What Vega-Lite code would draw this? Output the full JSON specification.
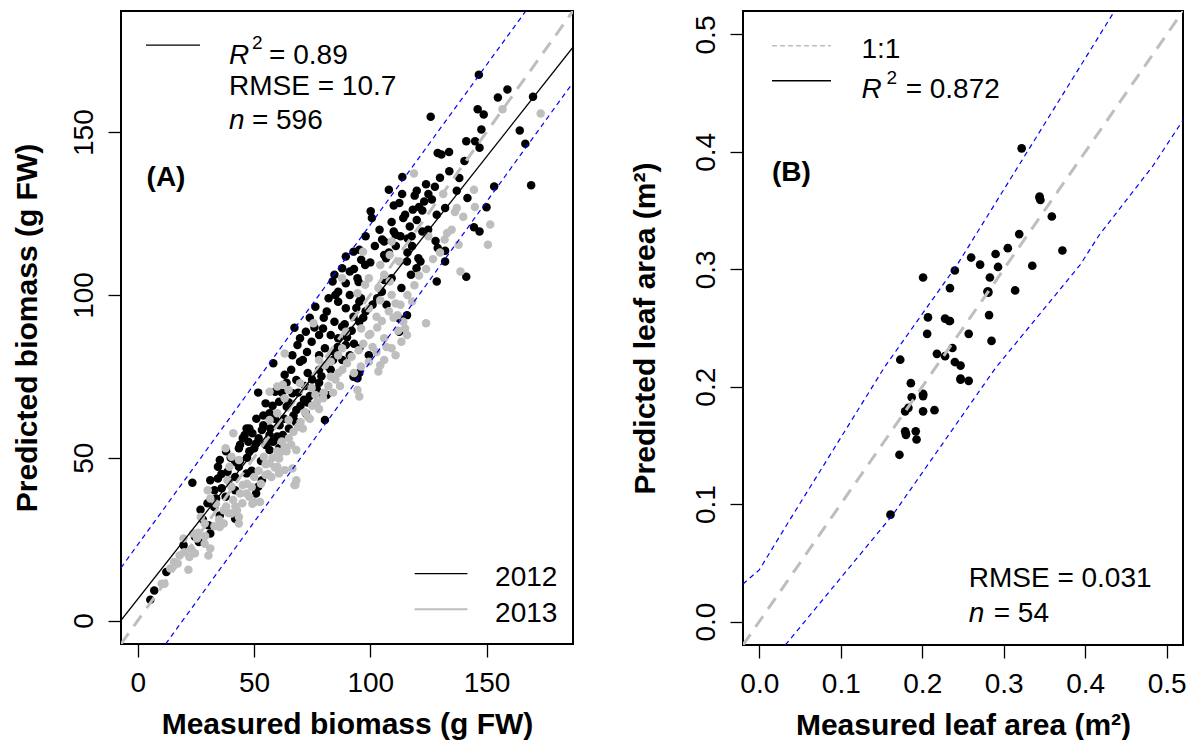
{
 "$schema": "https://vega.github.io/schema/vega-lite/v6.json",
 "background": "white",
 "padding": {"left": 11, "top": 10, "right": 5, "bottom": 2},
 "bounds": "flush",
 "spacing": 170,
 "config": {
  "view": {"stroke": "black", "strokeWidth": 2},
  "axis": {"domain": false, "grid": false, "tickColor": "black", "tickSize": 13, "tickWidth": 1.3, "labelFont": "Liberation Sans", "labelFontSize": 28, "labelColor": "black", "labelFlush": false, "labelOverlap": false, "labelBound": false, "titleFont": "Liberation Sans", "titleFontSize": 30, "titleFontWeight": "bold", "titleColor": "black"},
  "axisX": {"labelAngle": 0, "labelBaseline": "alphabetic", "labelPadding": 34, "titleBaseline": "alphabetic"},
  "axisY": {"labelAngle": 270, "labelAlign": "center", "labelBaseline": "alphabetic", "labelPadding": 16, "titleAngle": 270, "titleBaseline": "alphabetic", "titleAlign": "center"},
  "text": {"font": "Liberation Sans", "fontSize": 28, "color": "black", "align": "left", "baseline": "alphabetic"}
 },
 "datasets": {
  "a_pts": [
   {"x":146.7,"y":167.6,"year":"2012"},{"x":159.0,"y":163.1,"year":"2012"},{"x":154.9,"y":160.6,"year":"2012"},{"x":170.0,"y":160.9,"year":"2012"},{"x":126.0,"y":154.7,"year":"2012"},{"x":146.2,"y":157.0,"year":"2012"},{"x":148.8,"y":155.4,"year":"2012"},{"x":164.3,"y":150.5,"year":"2012"},{"x":147.8,"y":150.8,"year":"2012"},{"x":141.3,"y":147.2,"year":"2012"},{"x":145.1,"y":147.2,"year":"2012"},{"x":147.0,"y":145.2,"year":"2012"},{"x":166.7,"y":146.4,"year":"2012"},{"x":129.0,"y":143.6,"year":"2012"},{"x":130.6,"y":143.1,"year":"2012"},{"x":133.9,"y":143.9,"year":"2012"},{"x":140.5,"y":141.1,"year":"2012"},{"x":113.8,"y":136.2,"year":"2012"},{"x":169.2,"y":133.7,"year":"2012"},{"x":127.8,"y":133.2,"year":"2012"},{"x":138.3,"y":135.9,"year":"2012"},{"x":137.2,"y":132.0,"year":"2012"},{"x":141.8,"y":129.8,"year":"2012"},{"x":153.3,"y":133.3,"year":"2012"},{"x":150.0,"y":126.9,"year":"2012"},{"x":108.0,"y":132.3,"year":"2012"},{"x":113.7,"y":131.0,"year":"2012"},{"x":119.1,"y":130.5,"year":"2012"},{"x":112.5,"y":128.2,"year":"2012"},{"x":110.1,"y":127.5,"year":"2012"},{"x":123.2,"y":128.7,"year":"2012"},{"x":126.5,"y":129.3,"year":"2012"},{"x":100.2,"y":125.7,"year":"2012"},{"x":100.7,"y":123.6,"year":"2012"},{"x":118.3,"y":126.2,"year":"2012"},{"x":122.4,"y":125.9,"year":"2012"},{"x":115.0,"y":124.6,"year":"2012"},{"x":132.2,"y":126.7,"year":"2012"},{"x":109.2,"y":122.4,"year":"2012"},{"x":114.2,"y":123.6,"year":"2012"},{"x":128.6,"y":124.6,"year":"2012"},{"x":122.4,"y":119.5,"year":"2012"},{"x":124.9,"y":120.0,"year":"2012"},{"x":110.1,"y":119.5,"year":"2012"},{"x":110.9,"y":118.5,"year":"2012"},{"x":117.8,"y":118.0,"year":"2012"},{"x":144.6,"y":120.8,"year":"2012"},{"x":147.0,"y":119.5,"year":"2012"},{"x":105.1,"y":117.0,"year":"2012"},{"x":106.0,"y":116.4,"year":"2012"},{"x":128.1,"y":116.6,"year":"2012"},{"x":129.0,"y":114.4,"year":"2012"},{"x":132.2,"y":113.6,"year":"2012"},{"x":116.1,"y":117.3,"year":"2012"},{"x":92.8,"y":113.3,"year":"2012"},{"x":89.5,"y":111.8,"year":"2012"},{"x":95.3,"y":113.9,"year":"2012"},{"x":120.7,"y":111.3,"year":"2012"},{"x":121.6,"y":110.3,"year":"2012"},{"x":119.9,"y":108.2,"year":"2012"},{"x":132.2,"y":110.3,"year":"2012"},{"x":141.3,"y":105.6,"year":"2012"},{"x":117.5,"y":106.2,"year":"2012"},{"x":128.6,"y":104.1,"year":"2012"},{"x":87.9,"y":108.2,"year":"2012"},{"x":91.2,"y":107.2,"year":"2012"},{"x":94.5,"y":105.1,"year":"2012"},{"x":84.6,"y":106.2,"year":"2012"},{"x":89.5,"y":103.6,"year":"2012"},{"x":115.8,"y":110.3,"year":"2012"},{"x":96.1,"y":110.8,"year":"2012"},{"x":97.8,"y":109.2,"year":"2012"},{"x":106.0,"y":112.3,"year":"2012"},{"x":106.8,"y":111.3,"year":"2012"},{"x":106.0,"y":104.6,"year":"2012"},{"x":109.2,"y":105.1,"year":"2012"},{"x":113.4,"y":102.1,"year":"2012"},{"x":83.8,"y":104.1,"year":"2012"},{"x":86.2,"y":101.0,"year":"2012"},{"x":91.2,"y":100.0,"year":"2012"},{"x":95.3,"y":97.9,"year":"2012"},{"x":115.8,"y":93.8,"year":"2012"},{"x":112.5,"y":92.8,"year":"2012"},{"x":82.1,"y":99.0,"year":"2012"},{"x":76.4,"y":96.4,"year":"2012"},{"x":81.3,"y":94.9,"year":"2012"},{"x":86.2,"y":97.9,"year":"2012"},{"x":89.5,"y":95.9,"year":"2012"},{"x":92.8,"y":93.3,"year":"2012"},{"x":95.3,"y":91.8,"year":"2012"},{"x":84.6,"y":91.8,"year":"2012"},{"x":87.9,"y":90.2,"year":"2012"},{"x":79.7,"y":89.7,"year":"2012"},{"x":67.4,"y":89.9,"year":"2012"},{"x":72.3,"y":88.7,"year":"2012"},{"x":69.8,"y":86.7,"year":"2012"},{"x":78.0,"y":87.7,"year":"2012"},{"x":74.8,"y":85.6,"year":"2012"},{"x":83.0,"y":87.7,"year":"2012"},{"x":86.2,"y":86.7,"year":"2012"},{"x":89.5,"y":84.6,"year":"2012"},{"x":91.2,"y":81.5,"year":"2012"},{"x":84.6,"y":82.5,"year":"2012"},{"x":68.7,"y":84.6,"year":"2012"},{"x":72.8,"y":82.5,"year":"2012"},{"x":78.0,"y":81.5,"year":"2012"},{"x":80.5,"y":83.6,"year":"2012"},{"x":66.5,"y":81.5,"year":"2012"},{"x":69.8,"y":79.5,"year":"2012"},{"x":95.3,"y":83.6,"year":"2012"},{"x":99.4,"y":81.5,"year":"2012"},{"x":58.3,"y":79.0,"year":"2012"},{"x":112.5,"y":88.7,"year":"2012"},
   {"x":63.2,"y":75.5,"year":"2012"},{"x":68.2,"y":73.9,"year":"2012"},{"x":73.1,"y":76.0,"year":"2012"},{"x":78.0,"y":77.0,"year":"2012"},{"x":51.8,"y":70.0,"year":"2012"},{"x":59.1,"y":70.3,"year":"2012"},{"x":60.8,"y":67.2,"year":"2012"},{"x":66.5,"y":69.8,"year":"2012"},{"x":71.5,"y":67.8,"year":"2012"},{"x":55.0,"y":66.7,"year":"2012"},{"x":56.7,"y":63.7,"year":"2012"},{"x":64.1,"y":65.7,"year":"2012"},{"x":68.2,"y":64.7,"year":"2012"},{"x":72.3,"y":63.7,"year":"2012"},{"x":79.7,"y":68.8,"year":"2012"},{"x":81.3,"y":69.3,"year":"2012"},{"x":80.5,"y":61.6,"year":"2012"},{"x":95.3,"y":76.0,"year":"2012"},{"x":92.8,"y":74.9,"year":"2012"},{"x":94.5,"y":74.4,"year":"2012"},{"x":46.8,"y":59.0,"year":"2012"},{"x":49.3,"y":57.5,"year":"2012"},{"x":53.4,"y":58.5,"year":"2012"},{"x":56.7,"y":57.0,"year":"2012"},{"x":60.0,"y":56.5,"year":"2012"},{"x":62.4,"y":57.0,"year":"2012"},{"x":45.2,"y":56.0,"year":"2012"},{"x":47.6,"y":54.9,"year":"2012"},{"x":50.9,"y":54.4,"year":"2012"},{"x":55.0,"y":53.9,"year":"2012"},{"x":58.3,"y":54.9,"year":"2012"},{"x":61.6,"y":53.4,"year":"2012"},{"x":43.5,"y":52.9,"year":"2012"},{"x":50.1,"y":52.9,"year":"2012"},{"x":56.7,"y":52.4,"year":"2012"},{"x":60.8,"y":52.9,"year":"2012"},{"x":35.3,"y":49.3,"year":"2012"},{"x":34.5,"y":47.2,"year":"2012"},{"x":41.9,"y":48.8,"year":"2012"},{"x":38.6,"y":45.7,"year":"2012"},{"x":43.5,"y":47.2,"year":"2012"},{"x":41.9,"y":44.1,"year":"2012"},{"x":46.8,"y":45.2,"year":"2012"},{"x":31.2,"y":43.1,"year":"2012"},{"x":34.5,"y":43.6,"year":"2012"},{"x":23.5,"y":42.3,"year":"2012"},{"x":53.4,"y":43.1,"year":"2012"},{"x":51.8,"y":41.1,"year":"2012"},{"x":50.9,"y":39.0,"year":"2012"},{"x":36.1,"y":40.6,"year":"2012"},{"x":33.7,"y":37.5,"year":"2012"},{"x":37.8,"y":38.0,"year":"2012"},{"x":41.9,"y":40.0,"year":"2012"},{"x":32.9,"y":34.9,"year":"2012"},{"x":35.3,"y":32.3,"year":"2012"},{"x":41.9,"y":31.3,"year":"2012"},{"x":30.4,"y":29.3,"year":"2012"},{"x":31.2,"y":26.7,"year":"2012"},{"x":26.3,"y":24.1,"year":"2012"},{"x":24.6,"y":25.7,"year":"2012"},{"x":19.7,"y":23.1,"year":"2012"},{"x":12.3,"y":14.9,"year":"2012"},{"x":7.1,"y":9.2,"year":"2012"},{"x":5.4,"y":6.4,"year":"2012"},
   {"x":44,"y":54,"year":"2012"},{"x":46,"y":57,"year":"2012"},{"x":48,"y":52,"year":"2012"},{"x":52,"y":56,"year":"2012"},{"x":54,"y":60,"year":"2012"},{"x":57,"y":59,"year":"2012"},{"x":59,"y":62,"year":"2012"},{"x":61,"y":60,"year":"2012"},{"x":63,"y":62,"year":"2012"},{"x":65,"y":67,"year":"2012"},{"x":67,"y":63,"year":"2012"},{"x":69,"y":70,"year":"2012"},{"x":70,"y":66,"year":"2012"},{"x":72,"y":72,"year":"2012"},{"x":74,"y":69,"year":"2012"},{"x":75,"y":74,"year":"2012"},{"x":77,"y":71,"year":"2012"},{"x":79,"y":75,"year":"2012"},{"x":82,"y":78,"year":"2012"},{"x":84,"y":80,"year":"2012"},{"x":86,"y":84,"year":"2012"},{"x":88,"y":80,"year":"2012"},{"x":90,"y":87,"year":"2012"},{"x":92,"y":89,"year":"2012"},{"x":93,"y":85,"year":"2012"},{"x":97,"y":93,"year":"2012"},{"x":98,"y":95,"year":"2012"},{"x":101,"y":97,"year":"2012"},{"x":103,"y":99,"year":"2012"},{"x":105,"y":101,"year":"2012"},{"x":107,"y":97,"year":"2012"},{"x":102,"y":115,"year":"2012"},{"x":104,"y":120,"year":"2012"},{"x":98,"y":118,"year":"2012"},{"x":100,"y":110,"year":"2012"},{"x":95,"y":104,"year":"2012"},{"x":93,"y":108,"year":"2012"},{"x":85,"y":100,"year":"2012"},{"x":80,"y":93,"year":"2012"},{"x":76,"y":90,"year":"2012"},{"x":74,"y":93,"year":"2012"},{"x":71,"y":80,"year":"2012"},{"x":66,"y":77,"year":"2012"},{"x":64,"y":73,"year":"2012"},{"x":62,"y":70,"year":"2012"},{"x":58,"y":66,"year":"2012"},{"x":54,"y":63,"year":"2012"},{"x":51,"y":62,"year":"2012"},{"x":48,"y":59,"year":"2012"},{"x":40,"y":50,"year":"2012"},{"x":38,"y":52,"year":"2012"},{"x":36,"y":45,"year":"2012"},{"x":33,"y":40,"year":"2012"},{"x":30,"y":36,"year":"2012"},{"x":28,"y":31,"year":"2012"},{"x":27,"y":34,"year":"2012"},{"x":39,"y":43,"year":"2012"},{"x":44,"y":49,"year":"2012"},{"x":47,"y":50,"year":"2012"},{"x":53,"y":49,"year":"2012"},{"x":49,"y":46,"year":"2012"},{"x":57,"y":55,"year":"2012"},{"x":65,"y":59,"year":"2012"},{"x":68,"y":61,"year":"2012"},{"x":73,"y":67,"year":"2012"},{"x":78,"y":73,"year":"2012"},{"x":83,"y":77,"year":"2012"},{"x":89,"y":91,"year":"2012"},{"x":94,"y":96,"year":"2012"},{"x":96,"y":99,"year":"2012"},{"x":108,"y":113,"year":"2012"},{"x":111,"y":115,"year":"2012"},{"x":113,"y":118,"year":"2012"},{"x":117,"y":121,"year":"2012"},{"x":120,"y":123,"year":"2012"},{"x":121,"y":127,"year":"2012"},{"x":125,"y":131,"year":"2012"},{"x":118,"y":115,"year":"2012"},{"x":116,"y":113,"year":"2012"},{"x":130,"y":136,"year":"2012"},{"x":134,"y":138,"year":"2012"},{"x":124,"y":134,"year":"2012"},{"x":120,"y":132,"year":"2012"},
   {"x":173.3,"y":155.7,"year":"2013"},{"x":156.9,"y":157.0,"year":"2013"},{"x":118.8,"y":137.3,"year":"2013"},{"x":131.4,"y":131.0,"year":"2013"},{"x":144.6,"y":132.3,"year":"2013"},{"x":136.4,"y":125.5,"year":"2013"},{"x":137.2,"y":126.7,"year":"2013"},{"x":151.6,"y":121.6,"year":"2013"},{"x":150.6,"y":115.4,"year":"2013"},{"x":133.1,"y":119.0,"year":"2013"},{"x":138.0,"y":115.4,"year":"2013"},{"x":138.8,"y":107.2,"year":"2013"},{"x":124.0,"y":91.3,"year":"2013"},{"x":109.2,"y":116.4,"year":"2013"},{"x":108.4,"y":112.3,"year":"2013"},{"x":112.5,"y":110.3,"year":"2013"},{"x":104.3,"y":109.2,"year":"2013"},{"x":106.0,"y":106.2,"year":"2013"},{"x":108.4,"y":104.1,"year":"2013"},{"x":103.5,"y":102.1,"year":"2013"},{"x":109.2,"y":100.0,"year":"2013"},{"x":110.9,"y":97.4,"year":"2013"},{"x":111.7,"y":93.8,"year":"2013"},{"x":114.2,"y":91.8,"year":"2013"},{"x":115.0,"y":89.7,"year":"2013"},{"x":115.8,"y":87.7,"year":"2013"},{"x":113.4,"y":85.6,"year":"2013"},{"x":109.2,"y":83.6,"year":"2013"},{"x":106.0,"y":86.7,"year":"2013"},{"x":110.9,"y":81.5,"year":"2013"},{"x":102.7,"y":82.5,"year":"2013"},{"x":104.3,"y":78.4,"year":"2013"},{"x":99.4,"y":79.5,"year":"2013"},{"x":106.0,"y":80.0,"year":"2013"},{"x":96.9,"y":113.3,"year":"2013"},{"x":99.4,"y":105.1,"year":"2013"},{"x":97.8,"y":103.1,"year":"2013"},{"x":104.3,"y":98.4,"year":"2013"},{"x":99.4,"y":95.9,"year":"2013"},{"x":102.7,"y":93.3,"year":"2013"},{"x":96.1,"y":89.7,"year":"2013"},{"x":99.4,"y":87.7,"year":"2013"},{"x":89.5,"y":88.7,"year":"2013"},{"x":87.9,"y":83.6,"year":"2013"},{"x":86.2,"y":81.5,"year":"2013"},{"x":83.0,"y":79.5,"year":"2013"},{"x":63.2,"y":82.0,"year":"2013"},{"x":75.6,"y":91.3,"year":"2013"},{"x":87.9,"y":105.1,"year":"2013"},{"x":94.5,"y":100.5,"year":"2013"},{"x":78.0,"y":80.0,"year":"2013"},{"x":80.5,"y":78.4,"year":"2013"},
   {"x":62.4,"y":72.4,"year":"2013"},{"x":64.9,"y":70.8,"year":"2013"},{"x":69.8,"y":72.9,"year":"2013"},{"x":74.8,"y":71.4,"year":"2013"},{"x":76.4,"y":69.3,"year":"2013"},{"x":79.7,"y":68.3,"year":"2013"},{"x":83.0,"y":74.9,"year":"2013"},{"x":86.2,"y":76.0,"year":"2013"},{"x":94.5,"y":70.8,"year":"2013"},{"x":95.3,"y":68.8,"year":"2013"},{"x":103.5,"y":76.5,"year":"2013"},{"x":56.7,"y":61.6,"year":"2013"},{"x":60.0,"y":63.7,"year":"2013"},{"x":64.9,"y":61.6,"year":"2013"},{"x":69.0,"y":59.5,"year":"2013"},{"x":73.1,"y":62.6,"year":"2013"},{"x":54.2,"y":50.3,"year":"2013"},{"x":56.7,"y":48.3,"year":"2013"},{"x":60.0,"y":47.2,"year":"2013"},{"x":63.2,"y":46.2,"year":"2013"},{"x":60.8,"y":45.2,"year":"2013"},{"x":57.5,"y":44.1,"year":"2013"},{"x":55.0,"y":44.7,"year":"2013"},{"x":50.1,"y":44.1,"year":"2013"},{"x":68.2,"y":43.1,"year":"2013"},{"x":67.8,"y":41.6,"year":"2013"},{"x":61.6,"y":51.8,"year":"2013"},{"x":60.8,"y":49.8,"year":"2013"},{"x":41.1,"y":57.5,"year":"2013"},{"x":37.8,"y":52.9,"year":"2013"},{"x":40.3,"y":50.3,"year":"2013"},{"x":43.5,"y":49.3,"year":"2013"},{"x":39.4,"y":47.2,"year":"2013"},{"x":38.6,"y":43.1,"year":"2013"},{"x":40.3,"y":41.1,"year":"2013"},{"x":45.2,"y":41.6,"year":"2013"},{"x":46.8,"y":39.0,"year":"2013"},{"x":50.1,"y":36.4,"year":"2013"},{"x":30.1,"y":40.0,"year":"2013"},{"x":31.2,"y":37.5,"year":"2013"},{"x":33.7,"y":35.9,"year":"2013"},{"x":37.0,"y":33.9,"year":"2013"},{"x":40.3,"y":32.9,"year":"2013"},{"x":43.5,"y":31.8,"year":"2013"},{"x":52.6,"y":36.4,"year":"2013"},{"x":49.3,"y":35.9,"year":"2013"},{"x":27.1,"y":31.8,"year":"2013"},{"x":28.8,"y":29.8,"year":"2013"},{"x":35.3,"y":28.7,"year":"2013"},{"x":37.0,"y":29.8,"year":"2013"},{"x":23.8,"y":26.7,"year":"2013"},{"x":25.5,"y":25.2,"year":"2013"},{"x":28.8,"y":23.6,"year":"2013"},{"x":31.2,"y":22.1,"year":"2013"},{"x":30.4,"y":20.0,"year":"2013"},{"x":24.6,"y":20.7,"year":"2013"},{"x":22.2,"y":19.5,"year":"2013"},{"x":19.7,"y":25.2,"year":"2013"},{"x":15.6,"y":18.0,"year":"2013"},{"x":17.2,"y":17.5,"year":"2013"},{"x":21.8,"y":15.6,"year":"2013"},{"x":11.5,"y":11.3,"year":"2013"},{"x":10.3,"y":11.3,"year":"2013"},{"x":42.7,"y":33.9,"year":"2013"},{"x":43.5,"y":29.8,"year":"2013"},{"x":67.4,"y":41.6,"year":"2013"},{"x":66.5,"y":46.7,"year":"2013"},{"x":63.2,"y":53.4,"year":"2013"},{"x":68.2,"y":52.4,"year":"2013"},{"x":56.7,"y":70.3,"year":"2013"},{"x":60.0,"y":71.9,"year":"2013"},{"x":63.2,"y":68.3,"year":"2013"},
   {"x":35,"y":31,"year":"2013"},{"x":38,"y":35,"year":"2013"},{"x":41,"y":37,"year":"2013"},{"x":44,"y":39,"year":"2013"},{"x":47,"y":42,"year":"2013"},{"x":49,"y":41,"year":"2013"},{"x":52,"y":46,"year":"2013"},{"x":55,"y":48,"year":"2013"},{"x":58,"y":50,"year":"2013"},{"x":60,"y":52,"year":"2013"},{"x":62,"y":55,"year":"2013"},{"x":65,"y":56,"year":"2013"},{"x":67,"y":58,"year":"2013"},{"x":70,"y":61,"year":"2013"},{"x":72,"y":64,"year":"2013"},{"x":75,"y":66,"year":"2013"},{"x":77,"y":67,"year":"2013"},{"x":80,"y":70,"year":"2013"},{"x":82,"y":72,"year":"2013"},{"x":85,"y":74,"year":"2013"},{"x":88,"y":77,"year":"2013"},{"x":90,"y":79,"year":"2013"},{"x":92,"y":81,"year":"2013"},{"x":95,"y":83,"year":"2013"},{"x":97,"y":85,"year":"2013"},{"x":100,"y":88,"year":"2013"},{"x":103,"y":90,"year":"2013"},{"x":105,"y":92,"year":"2013"},{"x":108,"y":95,"year":"2013"},{"x":110,"y":93,"year":"2013"},{"x":113,"y":97,"year":"2013"},{"x":116,"y":100,"year":"2013"},{"x":119,"y":103,"year":"2013"},{"x":121,"y":106,"year":"2013"},{"x":124,"y":108,"year":"2013"},{"x":127,"y":111,"year":"2013"},{"x":130,"y":113,"year":"2013"},{"x":132,"y":117,"year":"2013"},{"x":135,"y":120,"year":"2013"},{"x":140,"y":124,"year":"2013"},{"x":145,"y":127,"year":"2013"},{"x":125,"y":118,"year":"2013"},{"x":118,"y":98,"year":"2013"},{"x":112,"y":89,"year":"2013"},{"x":107,"y":84,"year":"2013"},{"x":101,"y":84,"year":"2013"},{"x":96,"y":78,"year":"2013"},{"x":93,"y":76,"year":"2013"},{"x":87,"y":72,"year":"2013"},{"x":84,"y":70,"year":"2013"},{"x":78,"y":65,"year":"2013"},{"x":74,"y":62,"year":"2013"},{"x":71,"y":59,"year":"2013"},{"x":66,"y":54,"year":"2013"},{"x":64,"y":52,"year":"2013"},{"x":59,"y":47,"year":"2013"},{"x":56,"y":45,"year":"2013"},{"x":53,"y":42,"year":"2013"},{"x":48,"y":38,"year":"2013"},{"x":45,"y":36,"year":"2013"},{"x":42,"y":35,"year":"2013"},{"x":39,"y":33,"year":"2013"},{"x":26,"y":27,"year":"2013"},{"x":29,"y":26,"year":"2013"},{"x":33,"y":29,"year":"2013"},{"x":20,"y":21,"year":"2013"},{"x":23,"y":22,"year":"2013"},{"x":18,"y":20,"year":"2013"},{"x":14,"y":16,"year":"2013"}
  ],
  "a_lines": [
   {"x":-7.2,"y":-7.2,"line":"one"},{"x":187.2,"y":187.2,"line":"one"},
   {"x":-7.2,"y":0.1,"line":"fit"},{"x":187.2,"y":176.1,"line":"fit"},
   {"x":-7.2,"y":16.2,"line":"up"},{"x":73,"y":95.1,"line":"up"},{"x":166.9,"y":187.2,"line":"up"},
   {"x":12.0,"y":-7.2,"line":"lo"},{"x":100,"y":79.4,"line":"lo"},{"x":187.2,"y":165.2,"line":"lo"}
  ],
  "a_keys": [
   {"x":3.55,"x2":26.8,"y":176.7,"s":"fit"},
   {"x":119.1,"x2":141.8,"y":14.4,"s":"2012"},
   {"x":119.1,"x2":141.8,"y":3.45,"s":"2013"}
  ],
  "a_txt": [
   {"x":56.5,"y":171.0,"label":"= 0.89"},
   {"x":39.25,"y":161.4,"label":"RMSE = 10.7"},
   {"x":49.1,"y":150.9,"label":"= 596"},
   {"x":153.7,"y":10.6,"label":"2012"},
   {"x":153.7,"y":-0.36,"label":"2013"}
  ],
  "a_it": [
   {"x":39.25,"y":171.0,"label":"R"},
   {"x":39.25,"y":150.9,"label":"n"}
  ],
  "a_sup": [{"x":49.1,"y":175.5,"label":"2"}],
  "a_bold": [{"x":3.8,"y":133.5,"label":"(A)"}],
  "b_pts": [
   {"x":0.322,"y":0.403},{"x":0.344,"y":0.361},{"x":0.345,"y":0.359},{"x":0.344,"y":0.362},{"x":0.359,"y":0.345},{"x":0.319,"y":0.330},{"x":0.305,"y":0.318},{"x":0.372,"y":0.316},{"x":0.290,"y":0.313},{"x":0.260,"y":0.310},{"x":0.271,"y":0.304},{"x":0.293,"y":0.302},{"x":0.335,"y":0.303},{"x":0.240,"y":0.299},{"x":0.201,"y":0.293},{"x":0.283,"y":0.293},{"x":0.234,"y":0.284},{"x":0.280,"y":0.281},{"x":0.281,"y":0.280},{"x":0.281,"y":0.281},{"x":0.314,"y":0.282},{"x":0.282,"y":0.261},{"x":0.207,"y":0.259},{"x":0.228,"y":0.258},{"x":0.233,"y":0.256},{"x":0.234,"y":0.256},{"x":0.206,"y":0.245},{"x":0.257,"y":0.245},{"x":0.285,"y":0.239},{"x":0.237,"y":0.233},{"x":0.218,"y":0.228},{"x":0.173,"y":0.223},{"x":0.228,"y":0.226},{"x":0.240,"y":0.221},{"x":0.247,"y":0.218},{"x":0.186,"y":0.203},{"x":0.187,"y":0.191},{"x":0.201,"y":0.194},{"x":0.201,"y":0.192},{"x":0.201,"y":0.193},{"x":0.247,"y":0.206},{"x":0.247,"y":0.207},{"x":0.257,"y":0.205},{"x":0.183,"y":0.182},{"x":0.179,"y":0.179},{"x":0.201,"y":0.179},{"x":0.215,"y":0.180},{"x":0.179,"y":0.162},{"x":0.180,"y":0.159},{"x":0.180,"y":0.160},{"x":0.192,"y":0.162},{"x":0.193,"y":0.155},{"x":0.172,"y":0.142},{"x":0.161,"y":0.091}
  ],
  "b_lines": [
   {"x":-0.02,"y":-0.02,"line":"one"},{"x":0.52,"y":0.52,"line":"one"},
   {"x":-0.02,"y":0.032,"line":"up"},{"x":0.0,"y":0.044,"line":"up"},{"x":0.036,"y":0.085,"line":"up"},{"x":0.154,"y":0.217,"line":"up"},{"x":0.243,"y":0.304,"line":"up"},{"x":0.436,"y":0.52,"line":"up"},
   {"x":0.032,"y":-0.02,"line":"lo"},{"x":0.164,"y":0.091,"line":"lo"},{"x":0.29,"y":0.216,"line":"lo"},{"x":0.394,"y":0.304,"line":"lo"},{"x":0.417,"y":0.329,"line":"lo"},{"x":0.483,"y":0.388,"line":"lo"},{"x":0.52,"y":0.427,"line":"lo"}
  ],
  "b_keys": [
   {"x":0.0156,"x2":0.088,"y":0.4904,"s":"one"},
   {"x":0.0156,"x2":0.088,"y":0.4606,"s":"fit"}
  ],
  "b_txt": [
   {"x":0.1254,"y":0.48,"label":"1:1"},
   {"x":0.1796,"y":0.4459,"label":"= 0.872"},
   {"x":0.257,"y":0.029,"label":"RMSE = 0.031"},
   {"x":0.2877,"y":-0.0005,"label":"= 54"}
  ],
  "b_it": [
   {"x":0.1254,"y":0.4459,"label":"R"},
   {"x":0.257,"y":-0.0005,"label":"n"}
  ],
  "b_sup": [{"x":0.156,"y":0.4578,"label":"2"}],
  "b_bold": [{"x":0.0156,"y":0.3752,"label":"(B)"}]
 },
 "hconcat": [
  {
   "width": 452, "height": 633,
   "encoding": {
    "x": {"field": "x", "type": "quantitative", "scale": {"domain": [-7.2, 187.2], "nice": false, "zero": false}, "axis": {"title": "Measured biomass (g FW)", "values": [0, 50, 100, 150], "titleY": 89}},
    "y": {"field": "y", "type": "quantitative", "scale": {"domain": [-7.2, 187.2], "nice": false, "zero": false}, "axis": {"title": "Predicted biomass (g FW)", "values": [0, 50, 100, 150], "titleX": -85}}
   },
   "layer": [
    {"data": {"name": "a_pts"}, "mark": {"type": "circle", "size": 72, "opacity": 1}, "encoding": {"color": {"field": "year", "type": "nominal", "scale": {"domain": ["2012", "2013"], "range": ["#000000", "#BEBEBE"]}, "legend": null}}},
    {"data": {"name": "a_lines"}, "transform": [{"filter": "datum.line == 'one'"}], "mark": {"type": "line", "color": "#BEBEBE", "strokeWidth": 3, "strokeDash": [13, 9], "clip": true}},
    {"data": {"name": "a_lines"}, "transform": [{"filter": "datum.line == 'fit'"}], "mark": {"type": "line", "color": "black", "strokeWidth": 1.3, "clip": true}},
    {"data": {"name": "a_lines"}, "transform": [{"filter": "datum.line == 'up' || datum.line == 'lo'"}], "mark": {"type": "line", "color": "#0000FF", "strokeWidth": 1.2, "strokeDash": [5, 4], "clip": true}, "encoding": {"detail": {"field": "line"}}},
    {"data": {"name": "a_keys"}, "transform": [{"filter": "datum.s != '2013'"}], "mark": {"type": "rule", "color": "black", "strokeWidth": 1.3}, "encoding": {"x2": {"field": "x2"}}},
    {"data": {"name": "a_keys"}, "transform": [{"filter": "datum.s == '2013'"}], "mark": {"type": "rule", "color": "#BEBEBE", "strokeWidth": 2}, "encoding": {"x2": {"field": "x2"}}},
    {"data": {"name": "a_txt"}, "mark": {"type": "text"}, "encoding": {"text": {"field": "label"}}},
    {"data": {"name": "a_it"}, "mark": {"type": "text", "fontStyle": "italic"}, "encoding": {"text": {"field": "label"}}},
    {"data": {"name": "a_sup"}, "mark": {"type": "text", "fontSize": 19}, "encoding": {"text": {"field": "label"}}},
    {"data": {"name": "a_bold"}, "mark": {"type": "text", "fontWeight": "bold"}, "encoding": {"text": {"field": "label"}}}
   ]
  },
  {
   "width": 440, "height": 634,
   "encoding": {
    "x": {"field": "x", "type": "quantitative", "scale": {"domain": [-0.02, 0.52], "nice": false, "zero": false}, "axis": {"title": "Measured leaf area (m²)", "values": [0, 0.1, 0.2, 0.3, 0.4, 0.5], "format": ".1f", "titleY": 89}},
    "y": {"field": "y", "type": "quantitative", "scale": {"domain": [-0.02, 0.52], "nice": false, "zero": false}, "axis": {"title": "Predicted leaf area (m²)", "values": [0, 0.1, 0.2, 0.3, 0.4, 0.5], "format": ".1f", "titleX": -89}}
   },
   "layer": [
    {"data": {"name": "b_pts"}, "mark": {"type": "circle", "size": 75, "opacity": 1, "color": "black"}},
    {"data": {"name": "b_lines"}, "transform": [{"filter": "datum.line == 'one'"}], "mark": {"type": "line", "color": "#BEBEBE", "strokeWidth": 3, "strokeDash": [13, 9], "clip": true}},
    {"data": {"name": "b_lines"}, "transform": [{"filter": "datum.line == 'up' || datum.line == 'lo'"}], "mark": {"type": "line", "color": "#0000FF", "strokeWidth": 1.2, "strokeDash": [5, 4], "clip": true}, "encoding": {"detail": {"field": "line"}}},
    {"data": {"name": "b_keys"}, "transform": [{"filter": "datum.s == 'one'"}], "mark": {"type": "rule", "color": "#BEBEBE", "strokeWidth": 1.3, "strokeDash": [5, 3]}, "encoding": {"x2": {"field": "x2"}}},
    {"data": {"name": "b_keys"}, "transform": [{"filter": "datum.s == 'fit'"}], "mark": {"type": "rule", "color": "black", "strokeWidth": 1.3}, "encoding": {"x2": {"field": "x2"}}},
    {"data": {"name": "b_txt"}, "mark": {"type": "text"}, "encoding": {"text": {"field": "label"}}},
    {"data": {"name": "b_it"}, "mark": {"type": "text", "fontStyle": "italic"}, "encoding": {"text": {"field": "label"}}},
    {"data": {"name": "b_sup"}, "mark": {"type": "text", "fontSize": 19}, "encoding": {"text": {"field": "label"}}},
    {"data": {"name": "b_bold"}, "mark": {"type": "text", "fontWeight": "bold"}, "encoding": {"text": {"field": "label"}}}
   ]
  }
 ]
}
